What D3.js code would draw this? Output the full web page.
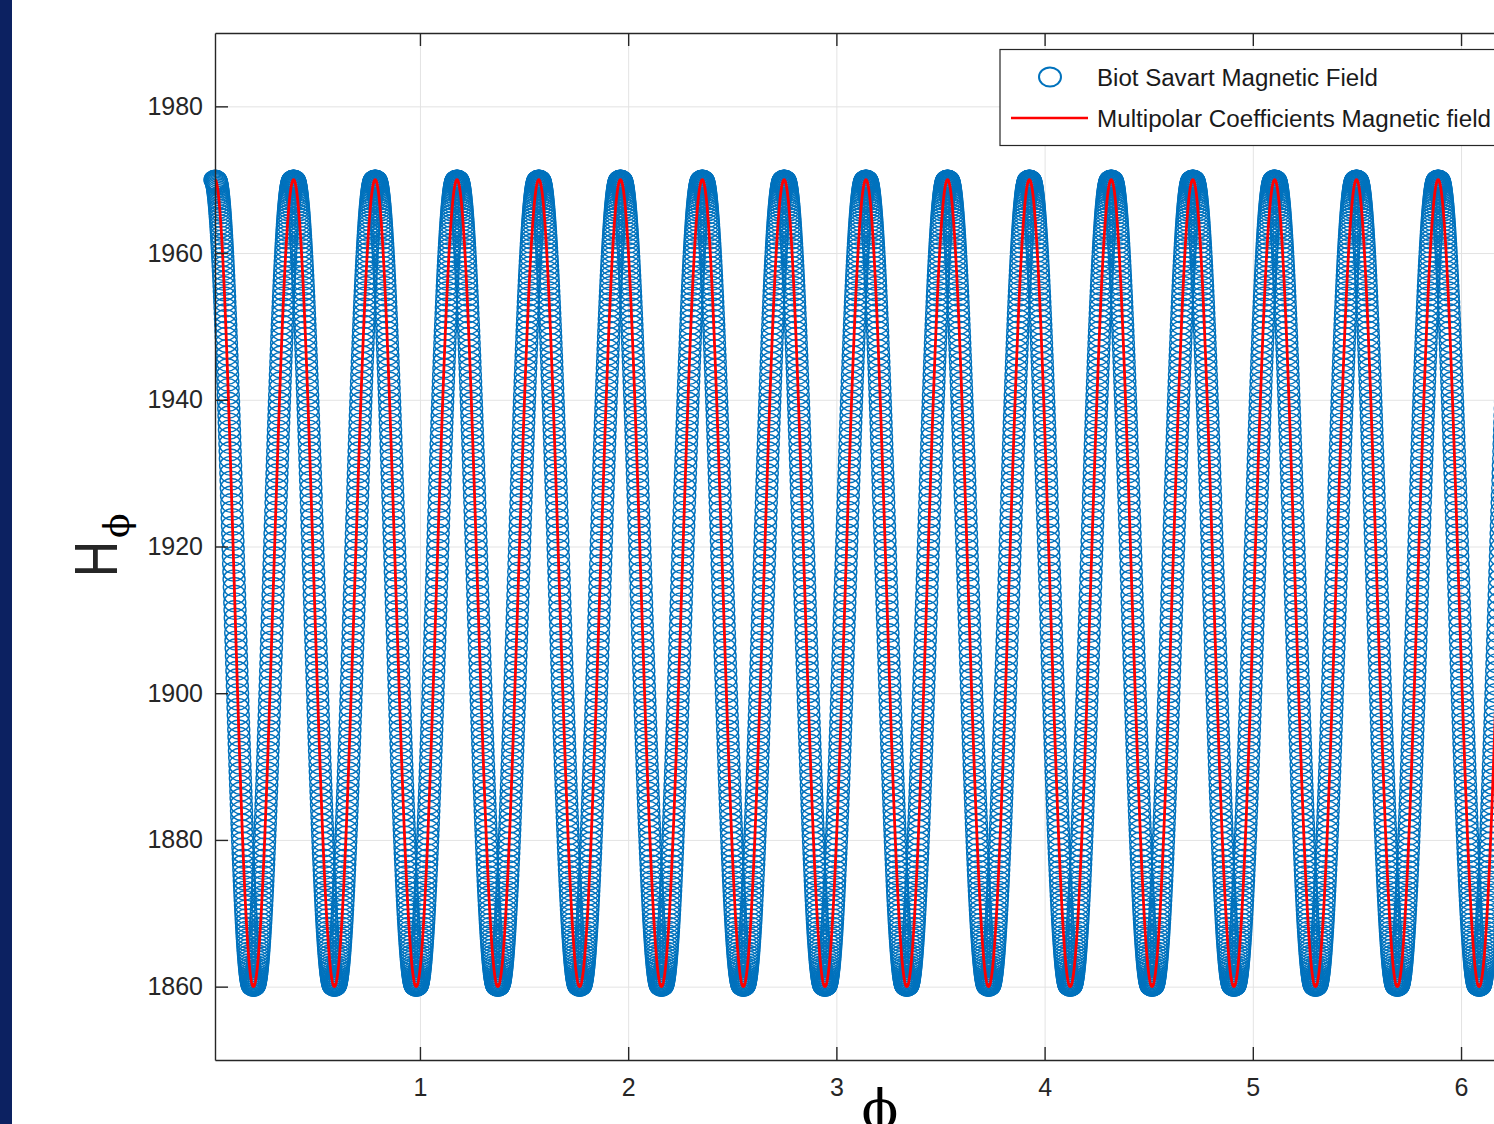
<!DOCTYPE html>
<html>
<head>
<meta charset="utf-8">
<script src="https://cdn.jsdelivr.net/npm/d3@7"></script>
<style>
  body { margin: 0; background: #fff; overflow: hidden; }
  svg { display: block; }
</style>
</head>
<body>
<svg width="1494" height="1124"></svg>
<script>
// values: extremes of H_phi along phi
const peakPhi = [0.016, 0.393, 0.785, 1.178, 1.571, 1.963, 2.356, 2.749, 3.142, 3.534, 3.927, 4.320, 4.712, 5.105, 5.498, 5.890, 6.283];
const peakH = [1970, 1970, 1970, 1970, 1970, 1970, 1970, 1970, 1970, 1970, 1970, 1970, 1970, 1970, 1970, 1970, 1970];
const troughPhi = [0.200, 0.589, 0.982, 1.374, 1.767, 2.160, 2.553, 2.945, 3.338, 3.731, 4.123, 4.516, 4.909, 5.301, 5.694, 6.087];
const troughH = [1860, 1860, 1860, 1860, 1860, 1860, 1860, 1860, 1860, 1860, 1860, 1860, 1860, 1860, 1860, 1860];

const xTicks = [1, 2, 3, 4, 5, 6];
const yTicks = [1860, 1880, 1900, 1920, 1940, 1960, 1980];
const xDomain = [0.0157, 6.2832];
const yDomain = [1850, 1990];
const seriesNames = ["Biot Savart Magnetic Field", "Multipolar Coefficients Magnetic field"];
const samplesPerHalf = 165;

const svg = d3.select("svg");
const plotL = 215, plotT = 33, plotR = 1520, plotB = 1060;

// navy strip on the left side of the slide
svg.append("rect").attr("x", 0).attr("y", 0).attr("width", 12).attr("height", 1124).attr("fill", "#0c2161");

const x = d3.scaleLinear().domain(xDomain).range([plotL, plotR]);
const y = d3.scaleLinear().domain(yDomain).range([plotB, plotT]);

// extremes in order, then the shape between them
var extremes = [];
peakPhi.forEach((p, i) => extremes.push({ phi: p, h: peakH[i] }));
troughPhi.forEach((p, i) => extremes.push({ phi: p, h: troughH[i] }));
extremes.sort((a, b) => a.phi - b.phi);

var pts = [];
for (let i = 0; i < extremes.length - 1; i++) {
    const a = extremes[i], b = extremes[i + 1];
    for (let k = 0; k < samplesPerHalf; k++) {
        const t = k / samplesPerHalf;
        pts.push({ phi: a.phi + t * (b.phi - a.phi), h: a.h + (b.h - a.h) * (1 - Math.cos(Math.PI * t)) / 2 });
    }
}
pts.push(extremes[extremes.length - 1]);
pts = pts.filter(d => d.phi >= xDomain[0]);

// grid
svg.append("g")
    .attr("transform", "translate(0," + plotB + ")")
    .call(d3.axisBottom(x).tickValues(xTicks).tickSize(-(plotB - plotT)).tickFormat(""))
    .call(g => g.select(".domain").remove())
    .call(g => g.selectAll("line").attr("stroke", "#e3e3e3").attr("stroke-width", 1));
svg.append("g")
    .attr("transform", "translate(" + plotL + ",0)")
    .call(d3.axisLeft(y).tickValues(yTicks).tickSize(-(plotR - plotL)).tickFormat(""))
    .call(g => g.select(".domain").remove())
    .call(g => g.selectAll("line").attr("stroke", "#e3e3e3").attr("stroke-width", 1));

// Biot Savart markers
svg.append("g")
    .selectAll("ellipse")
    .data(pts)
    .enter()
    .append("ellipse")
    .attr("cx", d => x(d.phi))
    .attr("cy", d => y(d.h))
    .attr("rx", 11)
    .attr("ry", 9.5)
    .attr("fill", "none")
    .attr("stroke", "#0072BD")
    .attr("stroke-width", 1.4);

// multipolar line
svg.append("path")
    .datum(pts)
    .attr("fill", "none")
    .attr("stroke", "#ff0000")
    .attr("stroke-width", 2.8)
    .attr("d", d3.line().x(d => x(d.phi)).y(d => y(d.h)));

// axes box
const axisColor = "#262626";
function styleAxis(g) {
    g.select(".domain").attr("stroke", axisColor).attr("stroke-width", 1.4);
    g.selectAll(".tick line").attr("stroke", axisColor).attr("stroke-width", 1.4);
    g.selectAll("text").attr("fill", axisColor).attr("font-family", "'Liberation Sans', Arial, Helvetica, sans-serif").attr("font-size", 25);
}
svg.append("g")
    .attr("transform", "translate(0," + plotB + ")")
    .call(d3.axisBottom(x).tickValues(xTicks).tickFormat(d3.format("d")).tickSizeInner(-13).tickSizeOuter(0).tickPadding(18))
    .call(styleAxis);
svg.append("g")
    .attr("transform", "translate(0," + plotT + ")")
    .call(d3.axisTop(x).tickValues(xTicks).tickSizeInner(-13).tickSizeOuter(0).tickFormat(""))
    .call(styleAxis);
svg.append("g")
    .attr("transform", "translate(" + plotL + ",0)")
    .call(d3.axisLeft(y).tickValues(yTicks).tickFormat(d3.format("d")).tickSizeInner(-13).tickSizeOuter(0).tickPadding(12))
    .call(styleAxis);
svg.append("g")
    .attr("transform", "translate(" + plotR + ",0)")
    .call(d3.axisRight(y).tickValues(yTicks).tickSizeInner(-13).tickSizeOuter(0).tickFormat(""))
    .call(styleAxis);

// labels
svg.append("text")
    .attr("transform", "translate(117,577) rotate(-90) scale(1,1.23)")
    .attr("font-family", "'Liberation Sans', Arial, sans-serif")
    .attr("font-size", 50)
    .attr("fill", axisColor)
    .text("H");
svg.append("text")
    .attr("transform", "translate(129,538) rotate(-90)")
    .attr("font-family", "'DejaVu Serif', serif")
    .attr("font-size", 36)
    .attr("fill", "#000")
    .text("ϕ");
svg.append("text")
    .attr("x", 880)
    .attr("y", 1128)
    .attr("text-anchor", "middle")
    .attr("font-family", "'DejaVu Serif', serif")
    .attr("font-size", 54)
    .attr("fill", "#000")
    .text("ϕ");

// legend
const legend = svg.append("g");
legend.append("rect")
    .attr("x", 1000).attr("y", 49.5).attr("width", 520).attr("height", 96)
    .attr("fill", "#fff").attr("stroke", axisColor).attr("stroke-width", 1.2);
legend.append("ellipse")
    .attr("cx", 1050).attr("cy", 77).attr("rx", 11).attr("ry", 9.5)
    .attr("fill", "none").attr("stroke", "#0072BD").attr("stroke-width", 2);
legend.append("line")
    .attr("x1", 1011).attr("x2", 1088).attr("y1", 118).attr("y2", 118)
    .attr("stroke", "#ff0000").attr("stroke-width", 2.4);
legend.selectAll("text.entry")
    .data(seriesNames)
    .enter()
    .append("text")
    .attr("class", "entry")
    .attr("x", 1097)
    .attr("y", (d, i) => 86 + i * 41)
    .attr("font-family", "'Liberation Sans', Arial, Helvetica, sans-serif")
    .attr("font-size", 23)
    .attr("fill", "#1a1a1a")
    .attr("textLength", (d, i) => i === 0 ? 281 : 394)
    .attr("lengthAdjust", "spacingAndGlyphs")
    .text(d => d);
</script>
</body>
</html>
